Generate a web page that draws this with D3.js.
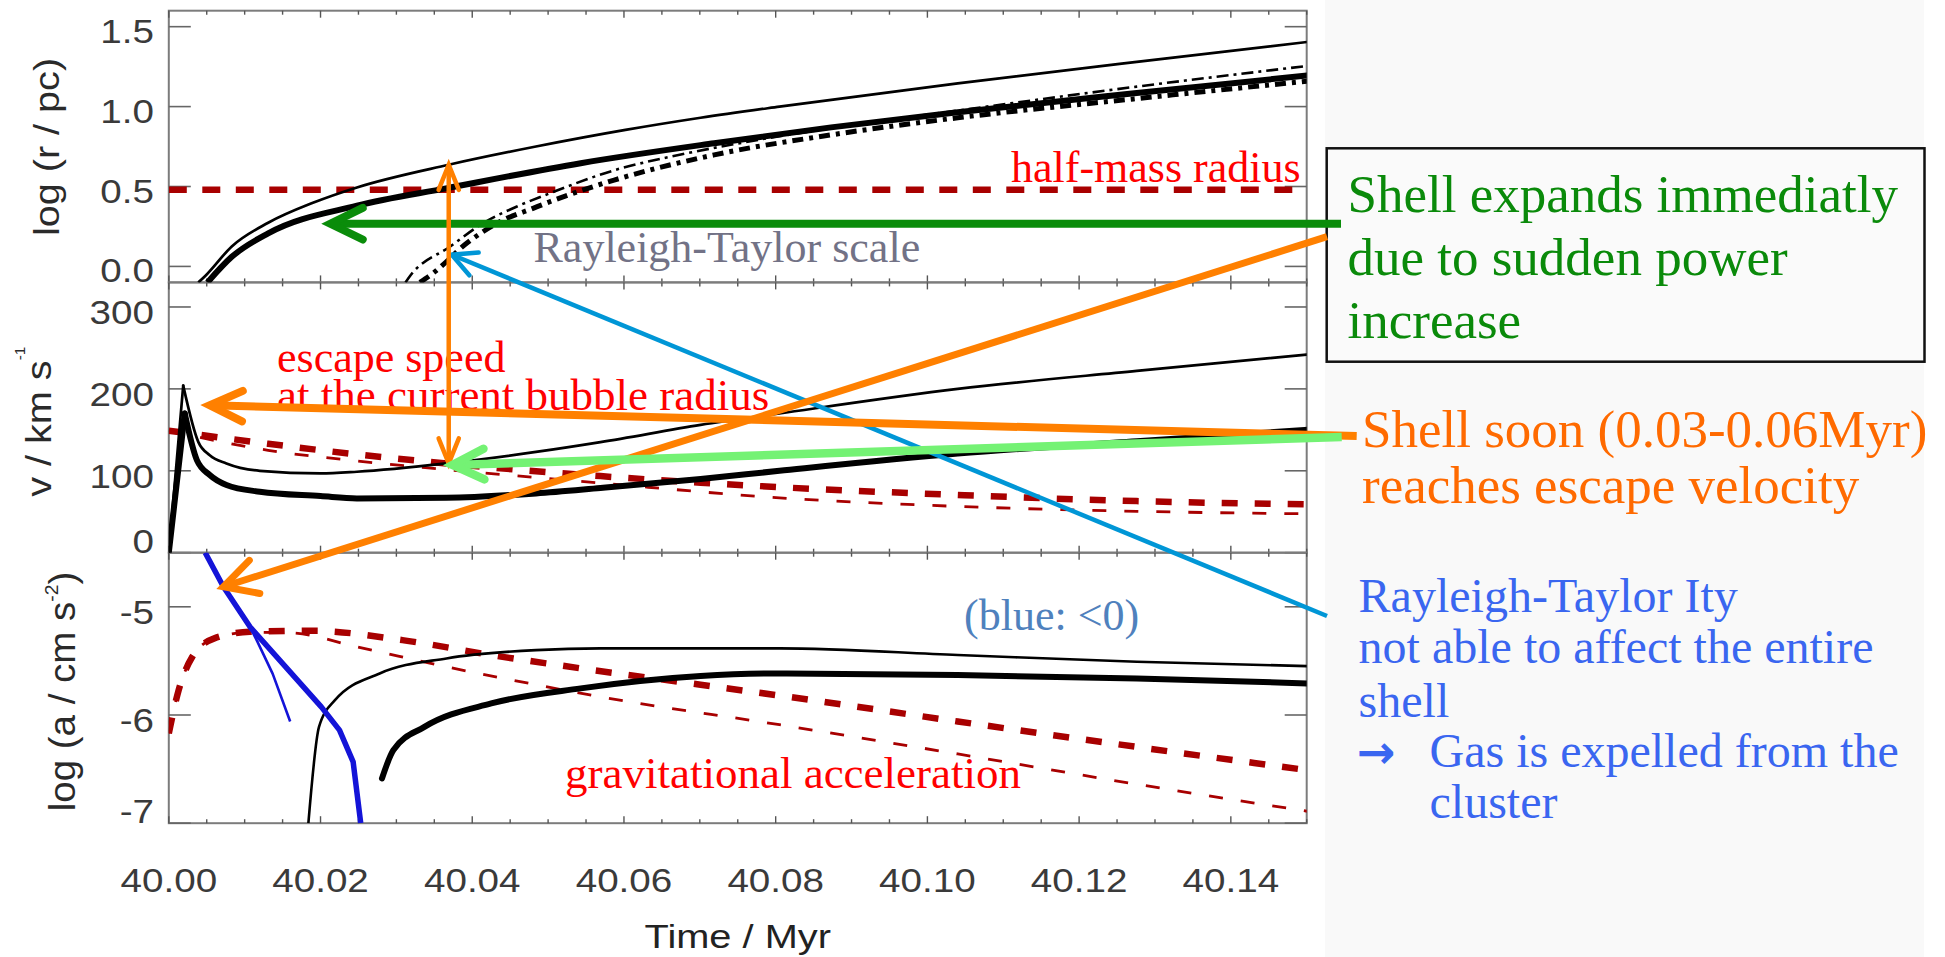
<!DOCTYPE html>
<html>
<head>
<meta charset="utf-8">
<script src="https://cdn.jsdelivr.net/npm/d3@7"></script>
<style>
  html, body { margin: 0; padding: 0; background: #ffffff; }
  svg { display: block; }
</style>
</head>
<body>
<svg id="chart" width="1945" height="957"></svg>
<script>
// ---------- axis ticks ----------
const timeTicks   = [40.00, 40.02, 40.04, 40.06, 40.08, 40.10, 40.12, 40.14];
const radiusTicks = [0.0, 0.5, 1.0, 1.5];
const speedTicks  = [0, 100, 200, 300];
const accelTicks  = [-7, -6, -5];

// ---------- top panel: log (r / pc) ----------
const radiusThin = [[40.0039,-0.10],[40.0048,-0.06],[40.0083,0.125],[40.0131,0.273],[40.0190,0.398],
  [40.0248,0.494],[40.0369,0.636],[40.0484,0.750],[40.0602,0.854],[40.0701,0.930],[40.0805,1.000],
  [40.1040,1.145],[40.1276,1.280],[40.1502,1.405]];
const radiusThick = [[40.0051,-0.10],[40.0083,0.060],[40.0131,0.207],[40.0248,0.380],[40.0367,0.490],
  [40.0543,0.646],[40.0719,0.771],[40.0873,0.870],[40.1040,0.965],[40.1276,1.085],[40.1502,1.195]];
const rtScaleThin = [[40.0312,-0.10],[40.0318,-0.06],[40.0371,0.125],[40.0415,0.273],[40.0459,0.375],
  [40.0503,0.459],[40.0586,0.600],[40.0675,0.700],[40.0763,0.780],[40.0873,0.865],[40.1040,0.975],
  [40.1276,1.125],[40.1502,1.255]];
const rtScaleThick = [[40.0331,-0.10],[40.0349,-0.04],[40.0393,0.146],[40.0437,0.281],[40.0481,0.365],
  [40.0503,0.406],[40.0587,0.540],[40.0719,0.698],[40.0873,0.823],[40.1040,0.930],[40.1276,1.050],
  [40.1502,1.160]];
const halfMassRadius = [[40.0, 0.48], [40.15, 0.48]];

// ---------- middle panel: v / km s^-1 ----------
const speedThin = [[40.0,0],[40.0019,204],[40.0039,135],[40.0054,119],[40.0076,109],[40.0120,100],
  [40.0200,96.8],[40.0248,98.8],[40.0366,109],[40.0484,123],[40.0569,135],[40.0701,156],[40.0805,170],
  [40.1040,200],[40.1276,222],[40.1501,242]];
const speedThick = [[40.0,0],[40.0021,170],[40.0037,113],[40.0054,94.8],[40.0076,82.6],[40.0120,74.4],
  [40.0200,69.1],[40.0248,66.3],[40.0366,67],[40.0484,72.4],[40.0569,79],[40.0701,90],[40.0805,100],
  [40.1040,121],[40.1276,136],[40.1501,150]];
const escapeThick = [[40.0,149],[40.0131,133],[40.0248,120],[40.0366,109],[40.0484,99.5],[40.0569,93.5],
  [40.0701,85.5],[40.0805,80],[40.1040,70.5],[40.1276,63],[40.1501,59]];
const escapeThin = [[40.0,149],[40.0131,125],[40.0248,112],[40.0366,101.5],[40.0569,85],[40.0805,67],
  [40.1040,56.5],[40.1276,50.5],[40.1501,47.5]];

// ---------- bottom panel: log (a / cm s^-2) ----------
const accelNegThick = [[40.0048,-4.5],[40.0072,-4.815],[40.0107,-5.185],[40.0154,-5.555],[40.0201,-5.925],
  [40.0225,-6.14],[40.0243,-6.433],[40.0253,-7.0]];
const accelNegThin = [[40.0048,-4.5],[40.0072,-4.815],[40.0107,-5.185],[40.0116,-5.31],[40.0137,-5.62],
  [40.0160,-6.06]];
const accelThin = [[40.0184,-7.0],[40.0198,-6.11],[40.0219,-5.863],[40.0278,-5.616],[40.0366,-5.477],
  [40.0484,-5.40],[40.0569,-5.384],[40.0805,-5.384],[40.1040,-5.446],[40.1276,-5.508],[40.1501,-5.548]];
const accelThick = [[40.0281,-6.587],[40.0296,-6.325],[40.0337,-6.11],[40.0425,-5.893],[40.0543,-5.754],
  [40.0701,-5.64],[40.0805,-5.616],[40.1040,-5.631],[40.1276,-5.662],[40.1501,-5.708]];
const gravThick = [[40.0,-6.17],[40.0013,-5.77],[40.0031,-5.462],[40.0060,-5.292],[40.0107,-5.231],
  [40.0190,-5.222],[40.0308,-5.308],[40.0425,-5.446],[40.0543,-5.569],[40.0701,-5.72],[40.0805,-5.82],
  [40.1040,-6.06],[40.1276,-6.295],[40.1501,-6.51]];
const gravThin = [[40.0,-6.17],[40.0013,-5.77],[40.0031,-5.462],[40.0060,-5.292],[40.0107,-5.235],
  [40.0160,-5.24],[40.0248,-5.37],[40.0366,-5.555],[40.0484,-5.72],[40.0569,-5.832],[40.0805,-6.09],
  [40.1040,-6.36],[40.1276,-6.64],[40.1501,-6.89]];

// ---------- side notes ----------
const noteGreen  = ["Shell expands immediatly", "due to sudden power", "increase"];
const noteOrange = ["Shell soon (0.03-0.06Myr)", "reaches escape velocity"];
const noteBlue   = ["Rayleigh-Taylor Ity", "not able to affect the entire", "shell"];
const noteBlueArrowed = ["Gas is expelled from the", "cluster"];

// ---------- layout ----------
const svg = d3.select("#chart");
const plotLeft = 168.8, plotRight = 1306.7;
const edges = [10.7, 282.4, 552.7, 823.2];

const x  = d3.scaleLinear().domain([40.0, 40.15]).range([plotLeft, plotRight]);
const yR = d3.scaleLinear().domain([-0.1, 1.6]).range([edges[1], edges[0]]);
const yV = d3.scaleLinear().domain([0, 330]).range([edges[2], edges[1]]);
const yA = d3.scaleLinear().domain([-7, -4.5]).range([edges[3], edges[2]]);

const SANS = "'Liberation Sans', Arial, Helvetica, sans-serif";
const SERIF = "'Liberation Serif', 'Times New Roman', serif";

// page background and the note column
svg.append("rect").attr("width", 1945).attr("height", 957).attr("fill", "#ffffff");
svg.append("rect").attr("x", 1325).attr("y", 0).attr("width", 599).attr("height", 957).attr("fill", "#f9f9f9");

const defs = svg.append("defs");
const panels = [
  { id: "pr", y: yR, top: edges[0], bottom: edges[1], ticks: radiusTicks, fmt: v => v.toFixed(1) },
  { id: "pv", y: yV, top: edges[1], bottom: edges[2], ticks: speedTicks,  fmt: v => String(v) },
  { id: "pa", y: yA, top: edges[2], bottom: edges[3], ticks: accelTicks,  fmt: v => String(v) }
];

panels.forEach(p => {
  defs.append("clipPath").attr("id", "clip-" + p.id)
    .append("rect").attr("x", plotLeft).attr("y", p.top)
    .attr("width", plotRight - plotLeft).attr("height", p.bottom - p.top);
});

// frames and ticks
const axisG = svg.append("g");
const minorTimes = d3.range(0, 31).map(i => 40 + i * 0.005);
panels.forEach(p => {
  axisG.append("rect").attr("x", plotLeft).attr("y", p.top)
    .attr("width", plotRight - plotLeft).attr("height", p.bottom - p.top)
    .attr("fill", "none").attr("stroke", "#7c7c7c").attr("stroke-width", 2);
  minorTimes.forEach((t, i) => {
    const len = (i % 4 === 0) ? 7 : 4;
    const xx = x(t);
    axisG.append("line").attr("x1", xx).attr("x2", xx).attr("y1", p.top).attr("y2", p.top + len)
      .attr("stroke", "#555").attr("stroke-width", 1.4);
    axisG.append("line").attr("x1", xx).attr("x2", xx).attr("y1", p.bottom).attr("y2", p.bottom - len)
      .attr("stroke", "#555").attr("stroke-width", 1.4);
  });
  p.ticks.forEach(v => {
    const yy = p.y(v);
    axisG.append("line").attr("x1", plotLeft).attr("x2", plotLeft + 22).attr("y1", yy).attr("y2", yy)
      .attr("stroke", "#666").attr("stroke-width", 1.6);
    axisG.append("line").attr("x1", plotRight - 22).attr("x2", plotRight).attr("y1", yy).attr("y2", yy)
      .attr("stroke", "#666").attr("stroke-width", 1.6);
    const base = Math.min(yy + 5 + 11.8, p.bottom);
    axisG.append("text")
      .attr("transform", `translate(154,${base}) scale(1.17,1)`)
      .attr("text-anchor", "end").attr("font-family", SANS).attr("font-size", 33)
      .attr("fill", "#3a3a3a").text(p.fmt(v));
  });
});

// time labels
timeTicks.forEach(t => {
  axisG.append("text")
    .attr("transform", `translate(${x(t)},892) scale(1.17,1)`)
    .attr("text-anchor", "middle").attr("font-family", SANS).attr("font-size", 33)
    .attr("fill", "#3a3a3a").text(t.toFixed(2));
});
axisG.append("text")
  .attr("transform", `translate(${(plotLeft + plotRight) / 2},948) scale(1.17,1)`)
  .attr("text-anchor", "middle").attr("font-family", SANS).attr("font-size", 34)
  .attr("fill", "#222").text("Time / Myr");

// y titles
const yt1 = axisG.append("text")
  .attr("transform", "translate(59,147) rotate(-90) scale(1.1,1)")
  .attr("text-anchor", "middle").attr("font-family", SANS).attr("font-size", 36).attr("fill", "#2a2a2a");
yt1.text("log (r / pc)");

const yt2 = axisG.append("text")
  .attr("transform", "translate(51,421.7) rotate(-90) scale(1.1,1)")
  .attr("text-anchor", "middle").attr("font-family", SANS).attr("font-size", 36).attr("fill", "#2a2a2a");
yt2.append("tspan").text("v / km s");
yt2.append("tspan").attr("font-size", 14).attr("dy", -26).text("-1");

const yt3 = axisG.append("text")
  .attr("transform", "translate(75,691.5) rotate(-90) scale(1.07,1)")
  .attr("text-anchor", "middle").attr("font-family", SANS).attr("font-size", 36).attr("fill", "#2a2a2a");
yt3.append("tspan").text("log (a / cm s");
yt3.append("tspan").attr("font-size", 18).attr("dy", -17).text("-2");
yt3.append("tspan").attr("dy", 17).text(")");

// ---------- curves ----------
function curve(panel, data, y, opt) {
  const gen = d3.line().x(d => x(d[0])).y(d => y(d[1])).curve(opt.curve || d3.curveMonotoneX);
  svg.append("path").datum(data)
    .attr("clip-path", `url(#clip-${panel})`)
    .attr("d", gen)
    .attr("fill", "none")
    .attr("stroke", opt.color || "#000")
    .attr("stroke-width", opt.width)
    .attr("stroke-dasharray", opt.dash || null)
    .attr("stroke-linecap", opt.cap || "butt")
    .attr("stroke-linejoin", "round");
}
const RED = "#a80000";

// top panel
curve("pr", halfMassRadius, yR, { color: RED, width: 6.5, dash: "18,15.5" });
curve("pr", rtScaleThin, yR, { width: 2.6, dash: "12,5,3,5" });
curve("pr", rtScaleThick, yR, { width: 5, dash: "11,6,4,6" });
curve("pr", radiusThin, yR, { width: 2.7 });
curve("pr", radiusThick, yR, { width: 6 });

// middle panel
curve("pv", escapeThin, yV, { color: RED, width: 2.8, dash: "14,18" });
curve("pv", escapeThick, yV, { color: RED, width: 6.5, dash: "16,17" });
curve("pv", speedThin.slice(0, 2), yV, { width: 2.7, curve: d3.curveLinear, cap: "round" });
curve("pv", speedThin.slice(1), yV, { width: 2.7, cap: "round" });
curve("pv", speedThick.slice(0, 2), yV, { width: 6, curve: d3.curveLinear, cap: "round" });
curve("pv", speedThick.slice(1), yV, { width: 6, cap: "round" });

// bottom panel
curve("pa", gravThin, yA, { color: RED, width: 2.8, dash: "14,18" });
curve("pa", gravThick, yA, { color: RED, width: 6.5, dash: "16,17" });
curve("pa", accelThin, yA, { width: 2.6 });
curve("pa", accelThick, yA, { width: 6, cap: "round" });
curve("pa", accelNegThin, yA, { color: "#1414d8", width: 2.6, curve: d3.curveLinear });
curve("pa", accelNegThick, yA, { color: "#1414d8", width: 5.5, curve: d3.curveLinear });

// ---------- in-chart labels ----------
function label(txt, xx, yy, size, color, family) {
  return svg.append("text").attr("x", xx).attr("y", yy).attr("font-family", family || SERIF)
    .attr("font-size", size).attr("fill", color).text(txt);
}
label("half-mass radius", 1011, 182, 44, "#ff0000");
label("Rayleigh-Taylor scale", 533.5, 262, 44, "#727286");
label("escape speed", 277, 372, 44, "#ff0000");
label("at the current bubble radius", 277, 410, 45, "#ff0000");
label("(blue: <0)", 964, 630, 44, "#4f81bd");
label("gravitational acceleration", 565, 788, 45, "#ff0000");

// ---------- note box and notes ----------
svg.append("rect").attr("x", 1326.7).attr("y", 148.3).attr("width", 597.8).attr("height", 213.4)
  .attr("fill", "#fafafa").attr("stroke", "#111").attr("stroke-width", 2.5);

noteGreen.forEach((s, i) => label(s, 1347.5, 211.7 + i * 63.2, 53, "#0a8a0a"));
noteOrange.forEach((s, i) => label(s, 1362, 447 + i * 56, 53, "#ff6a00"));
noteBlue.forEach((s, i) => label(s, 1358.6, 611.7 + [0, 51.3, 105][i], 48, "#3a66f0"));
label("\u2192", 1357, 768, 46, "#3a66f0", "'DejaVu Sans', sans-serif").attr("font-weight", "bold");
noteBlueArrowed.forEach((s, i) => label(s, 1429.5, 766.7 + i * 51.6, 48, "#3a66f0"));

// ---------- pointer arrows ----------
function arrow(tail, tip, color, width, head, angDeg, both) {
  const g = svg.append("g").attr("fill", "none").attr("stroke", color)
    .attr("stroke-width", width).attr("stroke-linecap", "round").attr("stroke-linejoin", "miter");
  g.append("line").attr("x1", tail[0]).attr("y1", tail[1]).attr("x2", tip[0]).attr("y2", tip[1])
    .attr("stroke-linecap", "butt");
  const drawHead = (from, to) => {
    const dx = from[0] - to[0], dy = from[1] - to[1], L = Math.hypot(dx, dy);
    const ux = dx / L, uy = dy / L, a = angDeg * Math.PI / 180;
    const p1 = [to[0] + head * (ux * Math.cos(a) - uy * Math.sin(a)), to[1] + head * (ux * Math.sin(a) + uy * Math.cos(a))];
    const p2 = [to[0] + head * (ux * Math.cos(-a) - uy * Math.sin(-a)), to[1] + head * (ux * Math.sin(-a) + uy * Math.cos(-a))];
    g.append("polyline").attr("points", [p1, to, p2].map(p => p.join(",")).join(" "));
  };
  drawHead(tail, tip);
  if (both) drawHead(tip, tail);
}

const tipDarkGreen = [x(40.0213), yR(0.267)];
const tipBlue      = [x(40.0373), yR(0.073)];
const tipDiag      = [x(40.0072), yA(-4.815)];
const tipPeak      = [x(40.0054), yV(180)];
const tipLight     = [x(40.0374), yV(107)];
const vertTop      = [x(40.0369), yR(0.636)];
const vertBottom   = [x(40.0369), yV(109)];

arrow([1327, 616], tipBlue, "#0096d6", 4.5, 27, 27, false);
arrow([1327, 236.7], tipDiag, "#ff8000", 7, 37, 28, false);
arrow([1356.7, 436], tipPeak, "#ff8000", 8, 36, 25, false);
arrow([1341, tipDarkGreen[1]], tipDarkGreen, "#0a8c0a", 8, 36, 26, false);
arrow(vertBottom, vertTop, "#ff8000", 4.5, 27, 22, true);
arrow([1341.7, 437], tipLight, "#74f274", 8.5, 35, 26, false);
</script>
</body>
</html>
